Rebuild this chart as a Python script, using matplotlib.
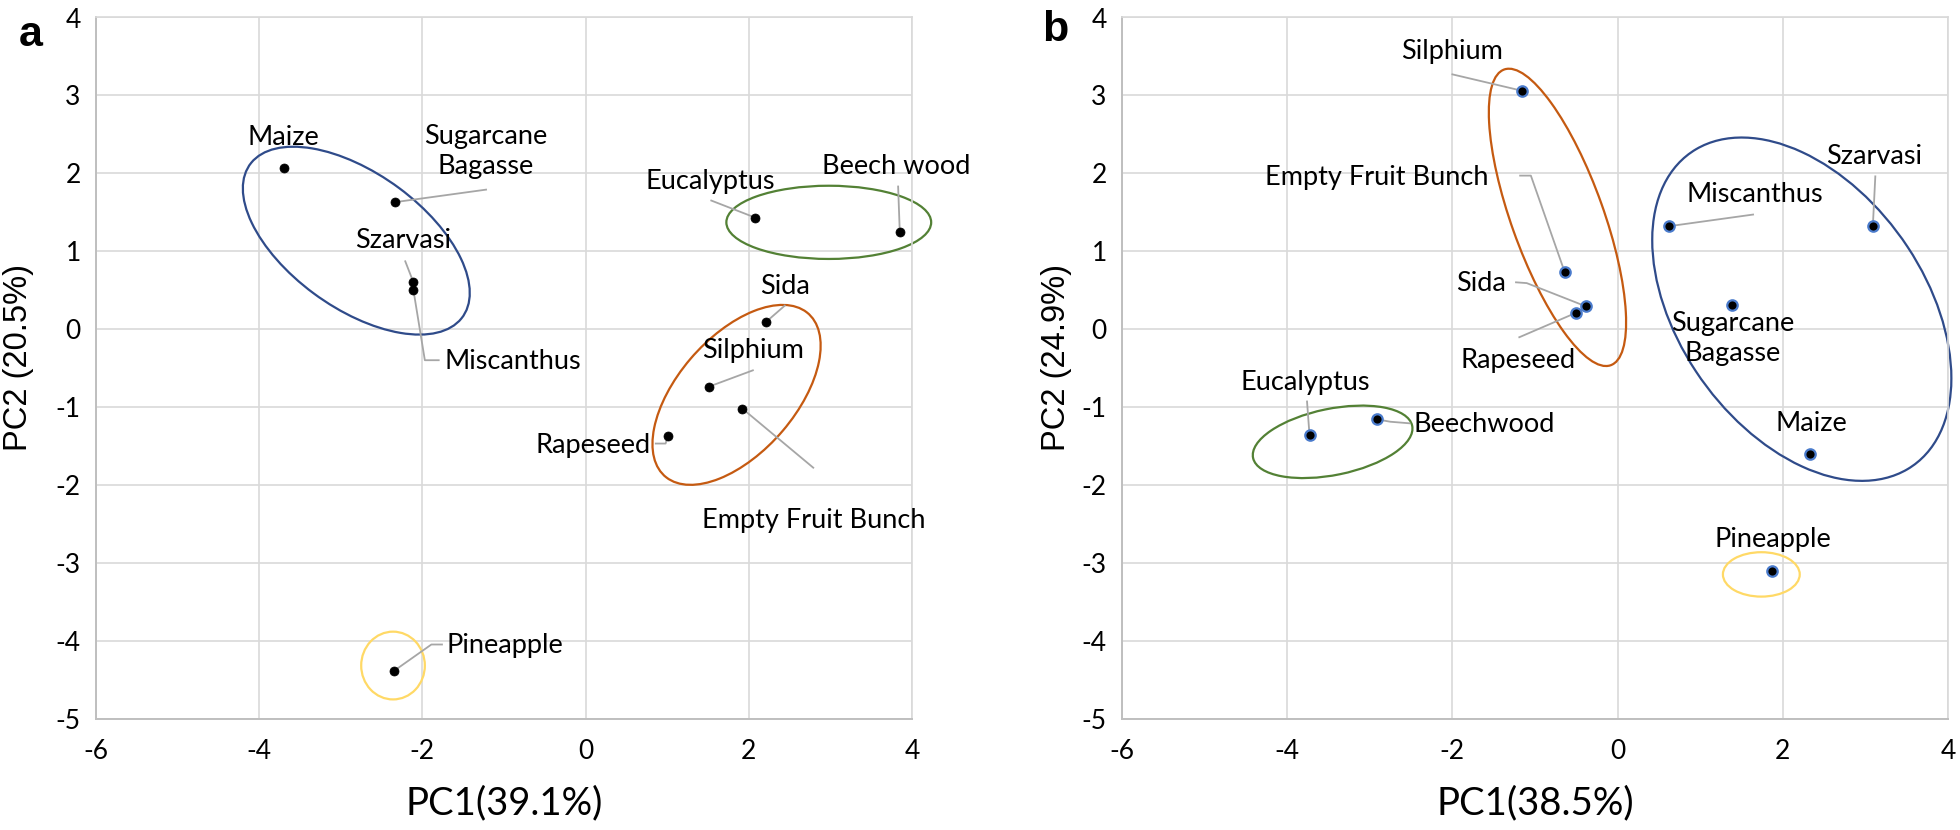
import matplotlib
matplotlib.use('Agg')
import matplotlib.pyplot as plt
from matplotlib.patches import Ellipse
import numpy as np

plt.rcParams['axes.unicode_minus'] = False  # plain hyphen on negative ticks, like Excel

# ---------------- data: panel a ----------------
names_a = ['Maize', 'Sugarcane Bagasse', 'Szarvasi', 'Miscanthus', 'Eucalyptus',
           'Beech wood', 'Sida', 'Silphium', 'Empty Fruit Bunch', 'Rapeseed', 'Pineapple']
pc1_a = [-3.70, -2.33, -2.11, -2.11, 2.08, 3.85, 2.21, 1.51, 1.92, 1.01, -2.35]
pc2_a = [2.07, 1.63, 0.60, 0.50, 1.43, 1.25, 0.09, -0.74, -1.02, -1.37, -4.39]

# ---------------- data: panel b ----------------
names_b = ['Silphium', 'Empty Fruit Bunch', 'Sida', 'Rapeseed', 'Miscanthus', 'Szarvasi',
           'Sugarcane Bagasse', 'Eucalyptus', 'Beechwood', 'Maize', 'Pineapple']
pc1_b = [-1.16, -0.64, -0.38, -0.50, 0.62, 3.09, 1.39, -3.73, -2.91, 2.33, 1.87]
pc2_b = [3.06, 0.73, 0.29, 0.21, 1.32, 1.32, 0.31, -1.36, -1.16, -1.61, -3.11]

# cluster ellipses: (center x, center y, width, height, angle, colour)
clusters_a = [(-2.81, 1.135, 3.26, 1.71, -37.8, '#2f4b8a'),
              (2.98, 1.37, 2.51, 0.94, 0.0, '#538135'),
              (1.85, -0.845, 2.73, 1.46, 50.9, '#c55a11'),
              (-2.36, -4.32, 0.78, 0.87, 0.0, '#ffd966')]
clusters_b = [(2.23, 0.255, 4.84, 3.02, -58.1, '#2f4b8a'),
              (-3.45, -1.448, 1.97, 0.85, 12.3, '#538135'),
              (-0.728, 1.434, 4.01, 1.12, -71.4, '#c55a11'),
              (1.74, -3.15, 0.93, 0.57, 0.0, '#ffd966')]

# label placement: name -> (text x, text y, ha, leader vertices)
labels_a = {
    'Maize': (-3.70, 2.46, 'center', None),
    'Sugarcane Bagasse': (-1.22, 2.28, 'center', [(-1.22, 1.79)]),
    'Szarvasi': (-2.24, 1.14, 'center', [(-2.21, 0.87)]),
    'Miscanthus': (-1.73, -0.42, 'left', [(-1.97, -0.40), (-1.80, -0.40)]),
    'Eucalyptus': (1.53, 1.89, 'center', [(1.54, 1.65)]),
    'Beech wood': (3.81, 2.09, 'center', [(3.83, 1.83)]),
    'Sida': (2.44, 0.54, 'center', [(2.44, 0.30)]),
    'Silphium': (2.05, -0.28, 'center', [(2.05, -0.53)]),
    'Empty Fruit Bunch': (2.79, -2.46, 'center', [(2.79, -1.78)]),
    'Rapeseed': (0.80, -1.50, 'right', [(0.98, -1.47), (0.86, -1.47)]),
    'Pineapple': (-1.70, -4.06, 'left', [(-1.89, -4.05), (-1.76, -4.05)]),
}
labels_b = {
    'Silphium': (-2.0, 3.56, 'center', [(-2.0, 3.27)]),
    'Empty Fruit Bunch': (-2.91, 1.94, 'center', [(-1.05, 1.97), (-1.18, 1.97)]),
    'Sida': (-1.65, 0.59, 'center', [(-1.10, 0.59), (-1.23, 0.60)]),
    'Rapeseed': (-1.20, -0.41, 'center', [(-1.19, -0.105)]),
    'Miscanthus': (1.66, 1.73, 'center', [(1.64, 1.47)]),
    'Szarvasi': (3.10, 2.21, 'center', [(3.12, 1.96)]),
    'Sugarcane Bagasse': (1.39, -0.12, 'center', None),
    'Eucalyptus': (-3.78, -0.69, 'center', [(-3.76, -0.93)]),
    'Beechwood': (-2.47, -1.23, 'left', [(-2.75, -1.19), (-2.52, -1.21)]),
    'Maize': (2.34, -1.21, 'center', None),
    'Pineapple': (1.877, -2.70, 'center', None),
}

W, H = 1960, 830
fig = plt.figure(figsize=(W / 100, H / 100), dpi=100)
fig.patch.set_facecolor('white')

text_font = 'Lato'
axis_font = 'Liberation Sans'


def style_axes(ax):
    ax.set_xlim(-6, 4)
    ax.set_ylim(-5, 4)
    ax.set_xticks(np.arange(-6, 5, 2))
    ax.set_yticks(np.arange(-5, 5, 1))
    ax.grid(True, color='#d9d9d9', linewidth=1.2, zorder=0)
    ax.set_axisbelow(True)
    ax.tick_params(length=0, labelsize=19, pad=11)
    ax.tick_params(axis='x', pad=15)
    for lab in ax.get_xticklabels() + ax.get_yticklabels():
        lab.set_fontfamily(text_font)
    for side in ['top', 'right']:
        ax.spines[side].set_color('#d9d9d9')
        ax.spines[side].set_linewidth(1.2)
    for side in ['left', 'bottom']:
        ax.spines[side].set_color('#bfbfbf')
        ax.spines[side].set_linewidth(1.4)


def draw_panel(ax, names, xs, ys, clusters, labels, mfc, mec, ms):
    style_axes(ax)
    for cx, cy, w, h, ang, col in clusters:
        ax.add_patch(Ellipse((cx, cy), w, h, angle=ang, fill=False, edgecolor=col,
                             linewidth=1.6, zorder=2, clip_on=False))
    for name, x, y in zip(names, xs, ys):
        tx, ty, ha, leader = labels[name]
        if leader is not None:
            pts = [(x, y)] + leader
            ax.plot([p[0] for p in pts], [p[1] for p in pts], color='#a6a6a6',
                    linewidth=1.3, zorder=3)
        ax.text(tx, ty, name.replace('Sugarcane ', 'Sugarcane\n'), ha=ha, va='center',
                fontsize=19.5, family=text_font, linespacing=1.25, zorder=5)
    ax.plot(xs, ys, 'o', color=mfc, markeredgecolor=mec, markeredgewidth=ms[1],
            markersize=ms[0], linestyle='none', zorder=4)


# ---------------- panel a ----------------
ax_a = fig.add_axes([96 / W, 1 - 718.5 / H, 816 / W, 701 / H])
draw_panel(ax_a, names_a, pc1_a, pc2_a, clusters_a, labels_a, 'black', 'black', (6.5, 0.5))
ax_a.set_xlabel('PC1(39.1%)', fontsize=27.5, family=text_font)
ax_a.xaxis.set_label_coords(0.5, (718.5 - 803) / 701)
ax_a.xaxis.label.set_va('center')
ax_a.set_ylabel('PC2 (20.5%)', fontsize=23.5, family=axis_font)
ax_a.yaxis.set_label_coords(-77 / 816, (718.5 - 357) / 701)
ax_a.yaxis.label.set_va('center')
fig.text(31 / W, 1 - 35 / H, 'a', fontsize=31, fontweight='bold', family=axis_font,
         ha='center', va='center')

# ---------------- panel b ----------------
ax_b = fig.add_axes([1122 / W, 1 - 718.5 / H, 826 / W, 701 / H])
draw_panel(ax_b, names_b, pc1_b, pc2_b, clusters_b, labels_b, 'black', '#4a7bcc', (7.5, 1.6))
ax_b.set_xlabel('PC1(38.5%)', fontsize=27.5, family=text_font)
ax_b.xaxis.set_label_coords(0.5, (718.5 - 803) / 701)
ax_b.xaxis.label.set_va('center')
ax_b.set_ylabel('PC2 (24.9%)', fontsize=23.5, family=axis_font)
ax_b.yaxis.set_label_coords(-66 / 826, (718.5 - 357) / 701)
ax_b.yaxis.label.set_va('center')
fig.text(1055 / W, 1 - 30 / H, 'b', fontsize=31, fontweight='bold', family=axis_font,
         ha='center', va='center')

plt.savefig('out.png', dpi=100)
plt.close()
print("saved out.png")
